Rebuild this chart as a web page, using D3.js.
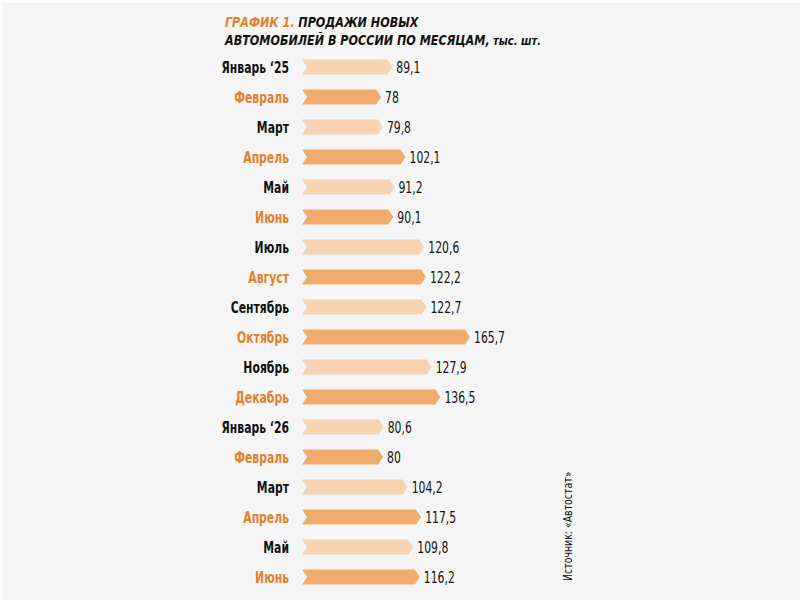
<!DOCTYPE html>
<html>
<head>
<meta charset="utf-8">
<script src="https://cdn.jsdelivr.net/npm/d3@7"></script>
<style>
  html, body { margin: 0; padding: 0; background: #ffffff; }
  svg { display: block; }
</style>
</head>
<body>
<svg id="chart" width="800" height="600"></svg>
<script>
const months = ["Январь ‘25","Февраль","Март","Апрель","Май","Июнь","Июль","Август","Сентябрь","Октябрь","Ноябрь","Декабрь","Январь ‘26","Февраль","Март","Апрель","Май","Июнь"];
const sales = [89.1,78,79.8,102.1,91.2,90.1,120.6,122.2,122.7,165.7,127.9,136.5,80.6,80,104.2,117.5,109.8,116.2];
const valueLabels = ["89,1","78","79,8","102,1","91,2","90,1","120,6","122,2","122,7","165,7","127,9","136,5","80,6","80","104,2","117,5","109,8","116,2"];
const titleAccent = "ГРАФИК 1.";
const titleLine1 = " ПРОДАЖИ НОВЫХ";
const titleLine2 = "АВТОМОБИЛЕЙ В РОССИИ ПО МЕСЯЦАМ,";
const titleUnit = " тыс. шт.";
const sourceText = "Источник: «Автостат»";

const data = months.map((m, i) => ({ month: m, value: sales[i], label: valueLabels[i], i }));

const svg = d3.select("#chart");
const W = 800, H = 600;
const font = "'DejaVu Sans Condensed', 'DejaVu Sans', sans-serif";
const SQ = 0.73; // horizontal condensing of labels

svg.append("rect").attr("width", W).attr("height", H).attr("fill", "#ffffff");
svg.append("rect").attr("x", 3).attr("y", 3).attr("width", W - 3).attr("height", H - 3).attr("fill", "#f5f5f5");

const x = d3.scaleLinear().domain([0, 165.7]).range([302, 470]);
const y = d3.scaleBand().domain(d3.range(data.length)).range([52, 592]).paddingInner(0.5).paddingOuter(0.25);

const orangeText = "#e2802c";
const barDark = "#f0ac6c";
const barLight = "#f6d3b2";

// Title
const t1 = svg.append("text").attr("transform", "translate(225,27) scale(0.92,1)")
  .attr("font-family", font)
  .attr("font-weight", "bold").attr("font-style", "italic").attr("font-size", 13.5);
t1.append("tspan").attr("fill", orangeText).text(titleAccent);
t1.append("tspan").attr("fill", "#111").text(titleLine1);
const t2 = svg.append("text").attr("transform", "translate(225,45) scale(0.92,1)")
  .attr("font-family", font)
  .attr("font-weight", "bold").attr("font-style", "italic").attr("font-size", 13.5).attr("fill", "#111");
t2.append("tspan").text(titleLine2);
t2.append("tspan").attr("font-size", 12).text(titleUnit);

const tip = 5, notch = 5;
function chevron(d) {
  const x0 = x(0), x1 = x(d.value);
  const top = y(d.i), h = y.bandwidth(), mid = top + h / 2, bot = top + h;
  return `M${x0},${top}L${x1 - tip},${top}L${x1},${mid}L${x1 - tip},${bot}L${x0},${bot}L${x0 + notch},${mid}Z`;
}

const rows = svg.append("g").selectAll("g").data(data).join("g");

rows.append("path")
  .attr("d", chevron)
  .attr("fill", d => d.i % 2 === 0 ? barLight : barDark);

rows.append("text")
  .attr("transform", d => `translate(289,${y(d.i) + y.bandwidth() / 2}) scale(${SQ},1)`)
  .attr("dy", "0.36em")
  .attr("text-anchor", "end")
  .attr("font-family", font)
  .attr("font-weight", "bold")
  .attr("font-size", 16.5)
  .attr("fill", d => d.i % 2 === 0 ? "#111" : orangeText)
  .text(d => d.month);

rows.append("text")
  .attr("transform", d => `translate(${x(d.value) + 4},${y(d.i) + y.bandwidth() / 2}) scale(${SQ},1)`)
  .attr("dy", "0.36em")
  .attr("font-family", font)
  .attr("font-size", 16.5)
  .attr("fill", "#111")
  .text(d => d.label);

svg.append("text")
  .attr("transform", "translate(572,581) rotate(-90) scale(0.87,1)")
  .attr("font-family", font)
  .attr("font-size", 12)
  .attr("fill", "#111")
  .text(sourceText);
</script>
</body>
</html>
